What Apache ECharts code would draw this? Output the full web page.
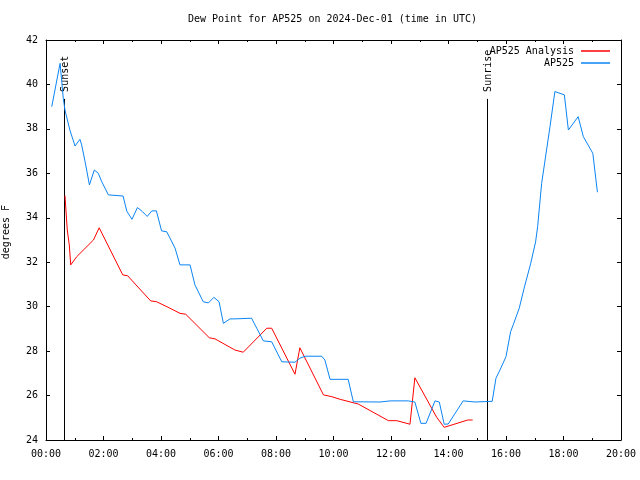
<!DOCTYPE html>
<html>
<head>
<meta charset="utf-8">
<script src="https://cdn.jsdelivr.net/npm/echarts@6/dist/echarts.min.js"></script>
<style>html,body{margin:0;padding:0;background:#fff}#c{width:640px;height:480px}</style>
</head>
<body>
<div id="c"></div>
<script>
const titleText = 'Dew Point for AP525 on 2024-Dec-01 (time in UTC)';
const yName = 'degrees F';
const seriesNames = ['AP525 Analysis', 'AP525'];

const blueTime = [0.20,0.49,0.60,0.66,0.83,1.01,1.18,1.24,1.36,1.51,1.68,1.82,1.94,2.17,2.68,2.81,2.99,3.18,3.36,3.52,3.68,3.84,4.02,4.20,4.49,4.66,5.01,5.18,5.47,5.65,5.84,6.02,6.17,6.40,6.57,7.15,7.33,7.56,7.85,8.20,8.66,8.83,9.01,9.59,9.70,9.88,10.51,10.69,11.62,11.97,12.60,12.83,13.04,13.22,13.53,13.68,13.85,13.99,14.51,14.92,15.52,15.65,15.79,16.00,16.16,16.25,16.46,16.63,16.86,17.03,17.10,17.24,17.53,17.70,18.03,18.17,18.51,18.69,19.02,19.18];
const blueDew = [39.0,40.95,39.38,38.85,37.95,37.23,37.53,37.28,36.52,35.48,36.15,36.0,35.62,35.03,34.98,34.3,33.93,34.46,34.27,34.06,34.31,34.31,33.41,33.37,32.63,31.88,31.88,30.98,30.22,30.17,30.42,30.22,29.25,29.45,29.45,29.48,29.03,28.46,28.42,27.52,27.5,27.68,27.77,27.77,27.6,26.73,26.73,25.72,25.71,25.76,25.76,25.71,24.75,24.75,25.76,25.71,24.71,24.72,25.76,25.71,25.74,26.78,27.15,27.75,28.87,29.18,29.93,30.83,31.95,32.92,33.6,35.55,38.1,39.68,39.53,37.95,38.55,37.65,36.9,35.15];

const redTime = [0.66,0.74,0.81,0.86,1.07,1.65,1.85,2.67,2.84,3.64,3.85,4.31,4.66,4.86,5.68,5.88,6.57,6.86,7.68,7.85,8.66,8.83,9.65,9.94,10.23,10.86,11.91,12.20,12.66,12.83,13.59,13.85,14.67,14.84];
const redDew = [35.0,33.45,32.78,31.88,32.25,33.0,33.55,31.43,31.39,30.26,30.22,29.93,29.7,29.66,28.6,28.55,28.05,27.95,29.03,29.03,26.96,28.15,26.03,25.95,25.83,25.62,24.87,24.87,24.71,26.8,25.02,24.57,24.9,24.9];

const sunNames = ['Sunset', 'Sunrise'];
const sunTime = [0.64, 15.33];
const sunTop = [39.35, 39.35];

const FONT = 'DejaVu Sans Mono';
const zip = (a, b) => a.map((v, i) => [v, b[i]]);
const fmtHour = v => (v < 10 ? '0' : '') + v + ':00';

const chart = echarts.init(document.getElementById('c'), null, {renderer: 'canvas'});

const xCommon = {
  type: 'value', min: 0, max: 20, interval: 2,
  axisLine: {show: true, onZero: false, lineStyle: {color: '#000', width: 1}},
  axisTick: {show: true, inside: true, length: 4, lineStyle: {color: '#000'}},
  minorTick: {show: true, splitNumber: 2, length: 2, lineStyle: {color: '#000'}},
  splitLine: {show: false}, minorSplitLine: {show: false}
};
const yCommon = {
  type: 'value', min: 24, max: 42, interval: 2,
  axisLine: {show: true, onZero: false, lineStyle: {color: '#000', width: 1}},
  axisTick: {show: true, inside: true, length: 4, lineStyle: {color: '#000'}},
  splitLine: {show: false}
};
const legendCommon = {
  right: 30, orient: 'vertical', align: 'right', padding: 0,
  icon: 'rect', itemWidth: 29, itemHeight: 1.5,
  textStyle: {fontFamily: FONT, fontSize: 10, color: '#000', padding: [0, 2, 0, 0]}
};

chart.setOption({
  animation: false,
  backgroundColor: '#fff',
  title: {
    text: titleText, left: 183, top: 9,
    textStyle: {fontFamily: FONT, fontSize: 10, fontWeight: 'normal', color: '#000'}
  },
  grid: {left: 46, right: 19, top: 40, bottom: 40},
  legend: [
    Object.assign({}, legendCommon, {data: [seriesNames[0]], top: 46}),
    Object.assign({}, legendCommon, {data: [seriesNames[1]], top: 58})
  ],
  xAxis: [
    Object.assign({}, xCommon, {position: 'bottom',
      axisLabel: {show: true, margin: 9, formatter: fmtHour, fontFamily: FONT, fontSize: 10, color: '#000'}}),
    Object.assign({}, xCommon, {position: 'top', axisLabel: {show: false}})
  ],
  yAxis: [
    Object.assign({}, yCommon, {position: 'left',
      axisLabel: {show: true, margin: 8, fontFamily: FONT, fontSize: 10, color: '#000'}}),
    Object.assign({}, yCommon, {position: 'right', axisLabel: {show: false}})
  ],
  graphic: [{
    type: 'text', left: 1, top: 205, rotation: Math.PI / 2,
    style: {text: yName, font: '10px ' + FONT, fill: '#000'}
  }],
  series: [
    {name: seriesNames[0], type: 'line', data: zip(redTime, redDew), showSymbol: false, symbol: 'none',
     lineStyle: {color: '#ff0000', width: 1}, itemStyle: {color: '#ff0000'}},
    {name: seriesNames[1], type: 'line', data: zip(blueTime, blueDew), showSymbol: false, symbol: 'none',
     lineStyle: {color: '#0a84f5', width: 1}, itemStyle: {color: '#0a84f5'}},
    {name: 'sun', type: 'custom', coordinateSystem: 'cartesian2d',
     data: sunTime.map((t, i) => [t, sunTop[i], i]),
     encode: {x: 0, y: 1},
     renderItem: function (params, api) {
       const t = api.value(0);
       const top = api.coord([t, api.value(1)]);
       const bot = api.coord([t, 24]);
       const name = sunNames[api.value(2)];
       return {
         type: 'group',
         children: [
           {type: 'line', shape: {x1: Math.round(bot[0]) + 0.5, y1: bot[1], x2: Math.round(bot[0]) + 0.5, y2: top[1]},
            style: {stroke: '#000', lineWidth: 1}},
           {type: 'text', x: Math.round(top[0]) + 1, y: top[1] - 7, rotation: Math.PI / 2,
            style: {text: name, font: '10px ' + FONT, fill: '#000', align: 'left', verticalAlign: 'middle'}}
         ]
       };
     }}
  ]
});
</script>
</body>
</html>
